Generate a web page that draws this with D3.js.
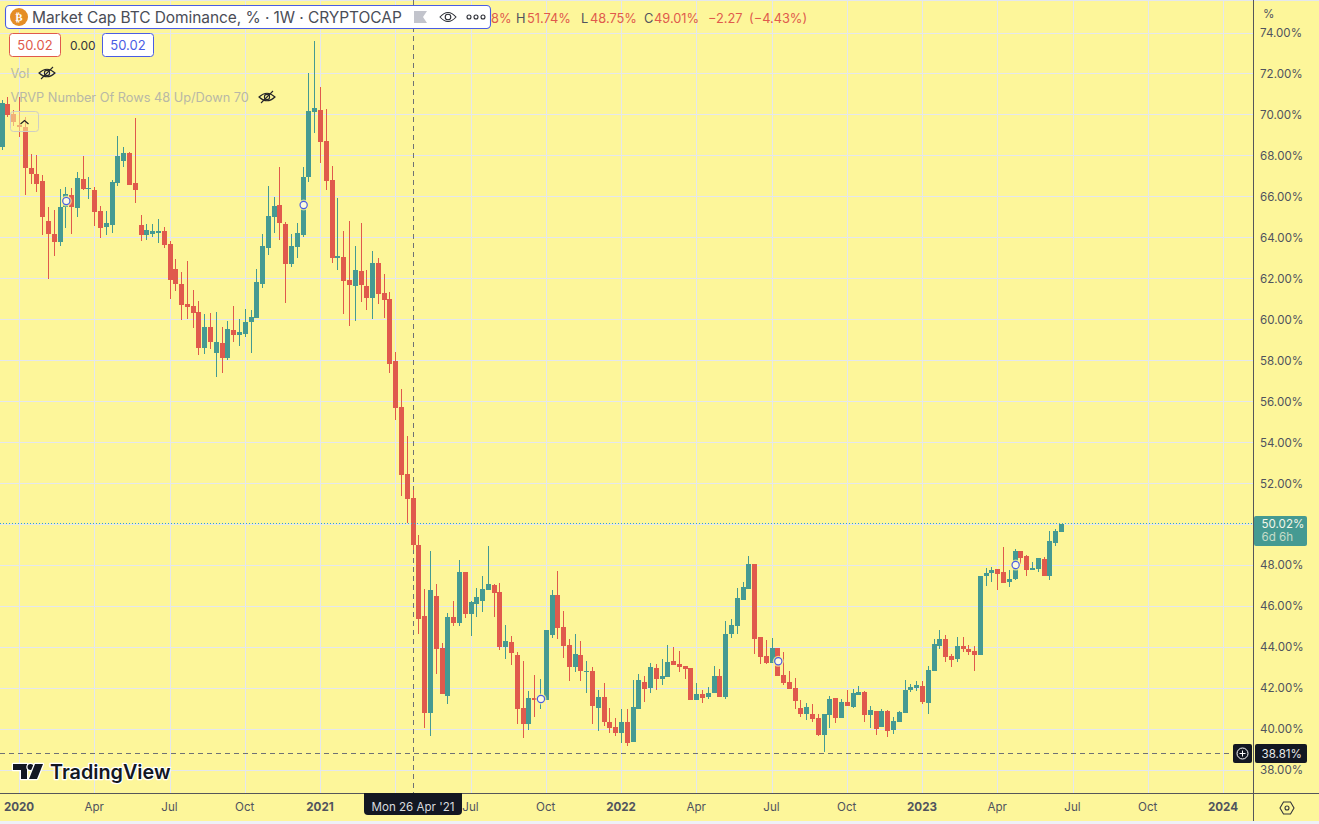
<!DOCTYPE html>
<html>
<head>
<meta charset="utf-8">
<title>Market Cap BTC Dominance</title>
<script src="https://cdn.jsdelivr.net/npm/d3@7"></script>
<style>
  html, body { margin: 0; padding: 0; background: #eef1f7; overflow: hidden; }
  svg { display: block; font-family: Inter, "Noto Sans", sans-serif; }
</style>
</head>
<body>
<script>
// weekly bars, first one is the week of 16 Dec 2019
const firstWeek = new Date(Date.UTC(2019, 11, 16));

const opens = [
  68.43,70.53,70.04,69.51,69.41,67.40,67.11,66.77,64.82,64.18,
  63.79,65.50,66.09,65.45,66.87,66.38,66.33,65.30,64.52,64.62,
  66.67,67.75,68.13,66.67,64.62,64.13,64.18,64.23,64.33,63.69,
  62.47,61.74,60.76,60.66,60.37,58.62,59.64,58.37,58.85,58.12,
  59.49,59.25,59.30,59.88,60.08,61.74,63.50,65.01,65.60,64.67,
  62.71,63.55,64.13,66.96,70.14,70.24,68.72,66.82,63.01,63.06,
  61.93,61.64,62.37,61.64,61.05,62.76,61.30,61.00,57.98,55.73,
  52.46,51.28,48.99,45.52,40.78,46.50,43.96,41.61,45.47,45.18,
  47.67,45.61,46.11,46.25,46.79,47.03,46.69,44.00,44.25,43.61,
  41.03,40.24,41.52,41.47,41.42,44.60,46.55,44.98,44.10,43.03,
  43.61,42.78,42.83,41.03,41.57,40.34,40.10,39.80,40.34,39.36,
  40.98,42.29,42.00,42.98,42.44,42.54,43.32,43.17,43.08,42.98,
  41.42,41.71,41.57,41.76,42.59,41.57,44.64,45.03,46.30,46.84,
  48.06,44.50,43.56,43.22,43.96,42.64,42.29,42.00,41.03,40.73,
  40.73,40.54,39.71,40.68,41.52,40.54,41.32,41.07,41.66,41.81,
  40.68,40.88,40.10,40.88,39.95,40.34,40.78,41.91,42.00,42.10,
  41.27,42.83,44.05,44.40,43.56,43.42,44.05,43.91,43.81,43.61,
  47.47,47.62,47.82,47.67,47.18,47.33,48.69,48.45,47.77,47.82,
  48.30,47.47,49.09,49.62
];
const highs = [
  70.73,70.87,70.24,70.87,69.90,68.08,68.03,67.06,65.50,65.35,
  66.38,66.48,66.43,67.21,67.99,66.96,66.48,65.55,65.30,66.82,
  68.97,68.43,68.18,69.85,65.11,64.67,64.67,64.91,64.52,63.84,
  62.96,62.32,62.86,61.45,60.91,60.27,60.32,60.37,59.64,59.93,
  60.66,60.03,60.52,60.47,62.47,64.18,66.52,65.99,67.45,64.77,
  64.18,64.72,67.45,72.04,73.61,71.36,70.29,67.50,65.94,64.33,
  64.82,63.60,64.72,62.42,63.35,63.01,62.22,61.35,58.42,56.61,
  54.31,51.68,49.48,46.84,48.69,47.08,44.20,45.66,46.25,48.26,
  47.67,46.25,46.89,47.47,48.94,47.08,47.13,45.08,44.54,43.76,
  43.32,41.86,42.64,42.44,44.84,46.79,47.72,45.76,44.40,44.64,
  44.30,43.32,43.03,41.91,42.24,41.03,40.54,40.98,40.98,42.39,
  42.68,42.59,43.22,43.17,43.42,44.10,44.00,43.81,43.08,42.98,
  42.24,41.91,42.05,43.08,42.93,45.27,45.37,46.89,47.18,48.45,
  48.06,44.50,44.35,44.45,43.96,43.76,42.83,42.49,41.42,41.27,
  41.22,40.73,40.73,41.61,41.52,41.47,41.91,41.95,42.10,41.86,
  41.12,40.88,40.98,40.93,40.59,40.88,42.39,42.20,42.34,42.34,
  43.08,44.40,44.84,44.59,43.66,44.50,44.50,44.10,44.05,47.47,
  47.86,47.91,47.82,48.89,47.77,48.79,48.69,48.50,48.16,48.35,
  48.40,49.67,49.77,50.02
];
const lows = [
  68.28,69.90,69.46,68.92,66.09,66.62,66.23,64.13,61.98,63.11,
  63.60,64.47,64.18,65.01,66.33,65.89,64.57,63.99,64.13,64.23,
  66.52,67.45,66.57,65.69,63.84,63.89,64.03,63.74,63.50,61.00,
  61.40,59.98,60.03,59.59,58.28,58.32,58.57,57.20,57.39,58.03,
  58.90,58.71,59.15,58.37,60.08,61.54,63.16,64.23,63.89,60.81,
  62.57,63.01,64.03,66.72,69.12,67.65,66.33,62.76,62.42,60.27,
  59.69,59.93,60.86,60.47,60.03,60.76,60.08,57.39,55.10,51.38,
  50.06,48.74,44.64,40.05,39.66,42.68,41.71,41.22,45.03,45.03,
  45.42,44.54,45.47,45.71,46.79,45.47,43.86,43.42,43.12,40.24,
  39.56,39.95,40.59,40.98,41.42,44.45,44.40,43.47,42.34,42.78,
  42.34,41.76,40.24,39.90,40.15,39.80,39.66,39.31,39.17,39.36,
  40.98,41.32,41.76,41.91,42.15,42.54,43.12,42.78,42.44,41.42,
  41.42,41.27,41.47,41.76,41.57,41.47,44.45,44.64,46.30,46.84,
  43.66,43.17,43.17,43.22,42.59,42.15,41.95,40.98,40.59,40.44,
  40.34,39.66,38.88,40.05,40.29,40.54,41.12,41.03,41.66,40.34,
  40.05,39.71,40.10,39.61,39.75,40.34,40.78,41.81,41.86,41.22,
  40.73,42.83,43.91,43.27,43.03,43.27,43.76,43.61,42.83,43.61,
  46.98,47.18,46.79,47.13,46.94,47.28,48.06,47.47,47.77,47.67,
  47.47,47.28,48.94,49.62
];
const closes = [
  70.58,70.00,69.65,69.41,67.40,67.11,66.62,65.01,64.18,63.79,
  65.50,66.13,65.50,66.91,66.38,66.43,65.25,64.47,64.72,66.72,
  67.99,68.13,66.57,66.33,64.13,64.38,64.33,64.33,63.65,61.93,
  61.74,60.71,60.61,60.32,58.62,59.64,58.90,58.90,58.12,59.54,
  59.25,59.39,59.88,60.12,61.84,63.60,65.06,65.55,64.72,62.71,
  63.60,64.23,66.96,70.19,70.34,68.67,66.77,63.01,63.11,61.88,
  61.69,62.42,61.69,61.05,62.76,61.25,60.96,57.83,55.68,52.41,
  51.24,48.99,45.37,40.78,46.79,43.91,41.71,45.47,45.18,47.67,
  45.61,46.20,46.45,46.84,47.08,46.64,44.00,44.30,43.71,40.98,
  40.24,41.52,41.42,41.57,44.84,46.55,44.94,44.05,43.03,43.66,
  42.83,42.83,41.12,41.57,40.34,40.05,39.80,40.34,39.31,41.07,
  42.39,41.95,43.03,42.44,42.59,43.27,43.12,43.03,42.93,41.42,
  41.71,41.52,41.76,42.59,41.57,44.64,45.08,46.40,46.94,48.06,
  44.40,43.52,43.22,43.96,42.59,42.24,41.95,41.37,40.73,41.07,
  40.49,39.71,40.73,41.47,40.54,41.32,41.12,41.76,41.81,40.68,
  40.93,40.00,40.88,39.90,40.39,40.83,41.91,42.05,42.15,41.32,
  42.88,44.15,44.40,43.52,43.37,44.05,43.91,43.76,43.61,47.47,
  47.62,47.77,47.57,47.13,47.33,48.69,48.35,47.77,47.86,48.35,
  47.47,49.18,49.67,50.02
];

const priceTicks = d3.range(38, 75, 2);
const hiddenPriceTicks = [50];   // covered by the last price tag

const timeTicks = [
  [2020, 0, 6, "2020"], [2020, 3, 6, "Apr"], [2020, 6, 6, "Jul"], [2020, 9, 5, "Oct"],
  [2021, 0, 4, "2021"], [2021, 3, 5, ""], [2021, 6, 5, "Jul"], [2021, 9, 4, "Oct"],
  [2022, 0, 3, "2022"], [2022, 3, 4, "Apr"], [2022, 6, 4, "Jul"], [2022, 9, 3, "Oct"],
  [2023, 0, 2, "2023"], [2023, 3, 3, "Apr"], [2023, 6, 3, "Jul"], [2023, 9, 2, "Oct"],
  [2024, 0, 1, "2024"]
];

// dividend style markers sitting on top of bars
const markerBars = [11, 52, 93, 134, 175];
const markerPrices = [65.79, 65.60, 41.47, 43.31, 48.01];

const lastPrice = 50.02;
const crossPrice = 38.81;
const crossDate = new Date(Date.UTC(2021, 3, 26));

const bg = "#fdf69a", gridCol = "#e4e7ee", up = "#459a92", down = "#e05a4c",
      textCol = "#50535e", blue = "#4a5de4";

const W = 1319, H = 824, paneRight = 1253, paneBottom = 793;

const svg = d3.select("body").append("svg").attr("width", W).attr("height", H);

const weekMs = 7 * 864e5;
const weekDate = i => new Date(firstWeek.getTime() + i * weekMs);

const x = d3.scaleUtc()
  .domain([firstWeek, new Date(Date.UTC(2024, 0, 1))])
  .range([2.14, 1223.5]);
const y = d3.scaleLinear().domain([38, 74]).range([770, 33]);

const crisp = v => Math.floor(v) + 0.5;

svg.append("rect").attr("width", W).attr("height", 821).attr("fill", bg);

// grid
const grid = svg.append("g").attr("stroke", gridCol).attr("stroke-width", 1).attr("shape-rendering", "crispEdges");
grid.selectAll(".gy").data(priceTicks).enter().append("line")
  .attr("x1", 0).attr("x2", paneRight)
  .attr("y1", d => crisp(y(d))).attr("y2", d => crisp(y(d)));
grid.selectAll(".gx").data(timeTicks).enter().append("line")
  .attr("y1", 0).attr("y2", paneBottom)
  .attr("x1", d => crisp(x(new Date(Date.UTC(d[0], d[1], d[2])))))
  .attr("x2", d => crisp(x(new Date(Date.UTC(d[0], d[1], d[2])))));
grid.append("line").attr("x1", 0).attr("x2", W).attr("y1", 0.5).attr("y2", 0.5);

// crosshair
const cross = svg.append("g").attr("stroke", "#6f7275").attr("stroke-dasharray", "5,4").attr("shape-rendering", "crispEdges");
cross.append("line").attr("x1", crisp(x(crossDate))).attr("x2", crisp(x(crossDate))).attr("y1", 0).attr("y2", paneBottom);
cross.append("line").attr("x1", 0).attr("x2", 1233).attr("y1", crisp(y(crossPrice))).attr("y2", crisp(y(crossPrice)));

// candles
const bars = svg.append("g").attr("shape-rendering", "crispEdges");
const idx = d3.range(opens.length);
const colour = i => closes[i] >= opens[i] ? up : down;

bars.selectAll(".wick").data(idx).enter().append("rect")
  .attr("x", i => Math.floor(x(weekDate(i))))
  .attr("width", 1)
  .attr("y", i => Math.round(y(highs[i])))
  .attr("height", i => Math.max(1, Math.round(y(lows[i])) - Math.round(y(highs[i]))))
  .attr("fill", colour);
bars.selectAll(".body").data(idx).enter().append("rect")
  .attr("x", i => Math.floor(x(weekDate(i))) - 2)
  .attr("width", 5)
  .attr("y", i => Math.round(y(Math.max(opens[i], closes[i]))))
  .attr("height", i => Math.max(1, Math.round(y(Math.min(opens[i], closes[i]))) - Math.round(y(Math.max(opens[i], closes[i])))))
  .attr("fill", colour);

// last price line
svg.append("line")
  .attr("x1", 0).attr("x2", paneRight)
  .attr("y1", crisp(y(lastPrice))).attr("y2", crisp(y(lastPrice)))
  .attr("stroke", "#2f9fd6").attr("stroke-dasharray", "1,2").attr("shape-rendering", "crispEdges");

// markers
const marks = svg.append("g");
markerBars.forEach((b, i) => {
  const cx = x(weekDate(b)) + 0.5, cy = y(markerPrices[i]);
  marks.append("circle").attr("cx", cx).attr("cy", cy).attr("r", 5.5).attr("fill", bg).attr("fill-opacity", 0.75);
  marks.append("circle").attr("cx", cx).attr("cy", cy).attr("r", 3.6)
    .attr("fill", "#fdfbe0").attr("stroke", blue).attr("stroke-width", 1.2);
});

// axes
svg.append("line").attr("x1", paneRight + 0.5).attr("x2", paneRight + 0.5).attr("y1", 0).attr("y2", 821)
  .attr("stroke", "#55565a").attr("shape-rendering", "crispEdges");
svg.append("line").attr("x1", 0).attr("x2", W).attr("y1", paneBottom + 0.5).attr("y2", paneBottom + 0.5)
  .attr("stroke", "#55565a").attr("shape-rendering", "crispEdges");

const yAxis = d3.axisRight(y)
  .tickValues(priceTicks.filter(d => !hiddenPriceTicks.includes(d)))
  .tickSize(0).tickPadding(6)
  .tickFormat(d => d.toFixed(2) + "%");
const yG = svg.append("g").attr("transform", `translate(${paneRight + 1},0)`).call(yAxis);
yG.select(".domain").remove();
yG.selectAll("text").attr("fill", textCol).attr("font-size", 11.6).attr("font-family", "Inter");

const xAxis = d3.axisBottom(x)
  .tickValues(timeTicks.map(d => new Date(Date.UTC(d[0], d[1], d[2]))))
  .tickSize(0).tickPadding(10)
  .tickFormat((d, i) => timeTicks[i][3]);
const xG = svg.append("g").attr("transform", `translate(-1,${paneBottom})`).call(xAxis);
xG.select(".domain").remove();
xG.selectAll("text")
  .attr("fill", textCol).attr("font-size", 11.6).attr("font-family", "Inter")
  .attr("font-weight", (d, i) => /^\d/.test(timeTicks[i][3]) ? 700 : 400);

svg.append("text").attr("x", 1263).attr("y", 18).attr("fill", textCol).attr("font-size", 11.6).text("%");

// axis tags
const tag = svg.append("g");
tag.append("rect").attr("x", 1254).attr("y", 516).attr("width", 53).attr("height", 30).attr("rx", 2).attr("fill", up);
tag.append("text").attr("x", 1261.5).attr("y", 528).attr("fill", "#f4f6e8").attr("font-size", 11.6).text("50.02%");
tag.append("text").attr("x", 1261.5).attr("y", 541).attr("fill", "#c5dcc8").attr("font-size", 11.6).text("6d 6h");

tag.append("rect").attr("x", 1233).attr("y", 744).attr("width", 19).attr("height", 19).attr("rx", 2).attr("fill", "#131722");
tag.append("circle").attr("cx", 1242.5).attr("cy", 753.5).attr("r", 5.5).attr("fill", "none").attr("stroke", "#fff");
tag.append("path").attr("d", "M1242.5 750.5v6M1239.5 753.5h6").attr("stroke", "#fff").attr("fill", "none");
tag.append("rect").attr("x", 1255).attr("y", 744).attr("width", 52).attr("height", 19).attr("rx", 2).attr("fill", "#131722");
tag.append("text").attr("x", 1261.5).attr("y", 757.5).attr("fill", "#e8e8e8").attr("font-size", 11.6).text("38.81%");

tag.append("path").attr("d", "M364 793h98v18a4 4 0 0 1-4 4h-90a4 4 0 0 1-4-4z").attr("fill", "#131722");
tag.append("text").attr("x", 413).attr("y", 811).attr("text-anchor", "middle").attr("fill", "#d8dade")
  .attr("font-size", 11.6).text("Mon 26 Apr '21");

// settings hexagon
const gear = svg.append("g").attr("fill", "none").attr("stroke", "#33353b").attr("stroke-width", 1.1);
gear.append("path").attr("d", "M1280 808l3.5-6h7l3.5 6-3.5 6h-7z");
gear.append("circle").attr("cx", 1287).attr("cy", 808).attr("r", 2);

// legend, title row
const leg = svg.append("g");
leg.append("rect").attr("x", 5.5).attr("y", 5.5).attr("width", 485).attr("height", 23).attr("rx", 4)
  .attr("fill", "#fff").attr("stroke", blue).attr("stroke-width", 1.1);
leg.append("circle").attr("cx", 19).attr("cy", 17).attr("r", 9).attr("fill", "#e58e26");
leg.append("text").attr("x", 19).attr("y", 21).attr("text-anchor", "middle").attr("fill", "#fff")
  .attr("font-size", 11).attr("font-weight", 700).attr("font-family", "DejaVu Sans").text("₿");
leg.append("text").attr("x", 32).attr("y", 23).attr("fill", "#4a4d57").attr("font-size", 15.5)
  .attr("letter-spacing", -0.07).attr("font-family", "Inter")
  .text("Market Cap BTC Dominance, % · 1W · CRYPTOCAP");
leg.append("path").attr("d", "M414 11h13l-4 6 4 6h-13z").attr("fill", "#c2c4cc");
const eye = leg.append("g").attr("fill", "none").attr("stroke", "#2a2c33").attr("stroke-width", 1.1);
eye.append("path").attr("d", "M440 17q8-9 16 0q-8 9-16 0z");
eye.append("circle").attr("cx", 448).attr("cy", 17).attr("r", 2.8);
[469, 476, 483].forEach(cx => {
  leg.append("circle").attr("cx", cx).attr("cy", 17).attr("r", 2).attr("fill", "none").attr("stroke", "#2a2c33").attr("stroke-width", 1.1);
});

const ohlcText = [
  [491, "8%", down], [516, "H", textCol], [527, "51.74%", down],
  [581, "L", textCol], [590, "48.75%", down], [644, "C", textCol],
  [654, "49.01%", down], [708, "−2.27", down], [749, "(−4.43%)", down]
];
ohlcText.forEach(d => {
  leg.append("text").attr("x", d[0]).attr("y", 23).attr("fill", d[2]).attr("font-size", 12.8).text(d[1]);
});

// second row
leg.append("rect").attr("x", 9.5).attr("y", 33.5).attr("width", 51).attr("height", 23).attr("rx", 3)
  .attr("fill", "#fff").attr("stroke", down);
leg.append("text").attr("x", 35).attr("y", 50).attr("text-anchor", "middle").attr("fill", down).attr("font-size", 13).text("50.02");
leg.append("text").attr("x", 70).attr("y", 50).attr("fill", "#33353b").attr("font-size", 12).text("0.00");
leg.append("rect").attr("x", 102.5).attr("y", 33.5).attr("width", 51).attr("height", 23).attr("rx", 3)
  .attr("fill", "#fff").attr("stroke", blue);
leg.append("text").attr("x", 128).attr("y", 50).attr("text-anchor", "middle").attr("fill", blue).attr("font-size", 13).text("50.02");

// hidden studies
const eyeOff = (cx, cy) => {
  const g = leg.append("g").attr("fill", "none").attr("stroke", "#26262a").attr("stroke-width", 1.1);
  g.append("path").attr("d", `M${cx - 8} ${cy}q8-7.5 16 0q-8 7.5-16 0z`);
  g.append("circle").attr("cx", cx).attr("cy", cy).attr("r", 2.6);
  g.append("path").attr("d", `M${cx - 6} ${cy + 6}L${cx + 6} ${cy - 6}`);
};
leg.append("text").attr("x", 10.5).attr("y", 78).attr("fill", "#b8b8a6").attr("font-size", 12.7).text("Vol");
eyeOff(47, 73);
leg.append("text").attr("x", 10.5).attr("y", 102).attr("fill", "#b8b8a6").attr("font-size", 12.75)
  .text("VRVP Number Of Rows 48 Up/Down 70");
eyeOff(267, 97);

// collapse button
leg.append("rect").attr("x", 10.5).attr("y", 111.5).attr("width", 28).attr("height", 20).attr("rx", 3)
  .attr("fill", bg).attr("fill-opacity", 0.55).attr("stroke", "#cfcfc4");
leg.append("path").attr("d", "M20.5 124l4-3.5 4 3.5").attr("fill", "none").attr("stroke", "#222").attr("stroke-width", 1.2);

// TradingView mark
const logo = svg.append("g").attr("paint-order", "stroke").attr("stroke", "#fff").attr("stroke-width", 2.5)
  .attr("stroke-linejoin", "round").attr("fill", "#131722");
logo.append("path").attr("d", "M13 764h14v15h-6v-9h-8z");
logo.append("circle").attr("cx", 30.5).attr("cy", 767).attr("r", 3);
logo.append("path").attr("d", "M29 779l6-15h8l-6 15z");
logo.append("text").attr("x", 50).attr("y", 779).attr("font-size", 19.8).attr("font-weight", 600).attr("font-family", "Inter").text("TradingView");
</script>
</body>
</html>
